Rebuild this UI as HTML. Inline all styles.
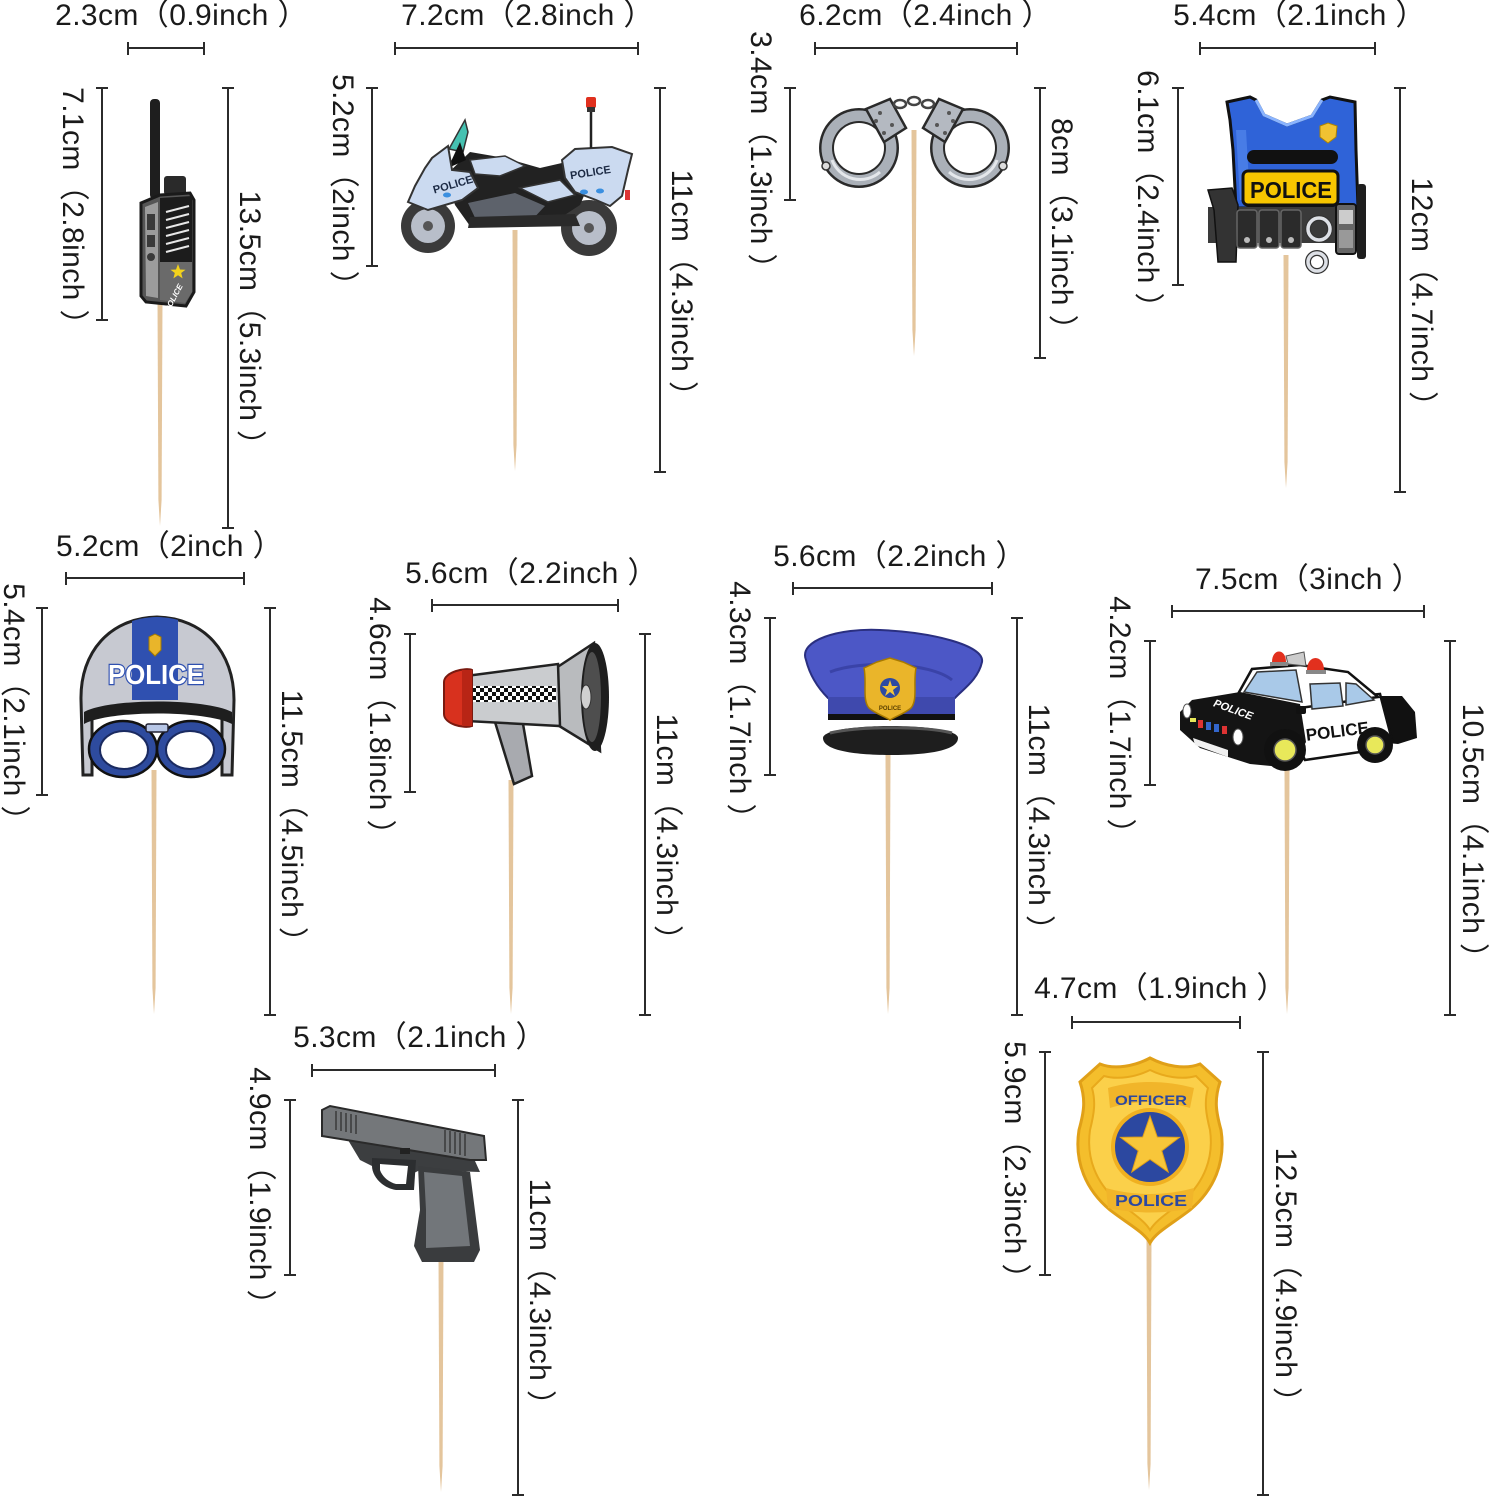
<!DOCTYPE html>
<html><head><meta charset="utf-8"><style>
html,body{margin:0;padding:0;background:#fff;}
svg{display:block;}
.t{font-family:"Liberation Sans","Noto Sans CJK SC",sans-serif;font-size:30px;fill:#1a1a1a;letter-spacing:0.4px;}
.d{stroke:#2b2b2b;stroke-width:2;fill:none;}
.sk{fill:#e4c59c;}
</style></head><body>
<svg width="1491" height="1500" viewBox="0 0 1491 1500" xmlns="http://www.w3.org/2000/svg">
<defs>
<pattern id="chk" width="8" height="8" patternUnits="userSpaceOnUse"><rect width="8" height="8" fill="#fff"/><rect width="4" height="4" fill="#111"/><rect x="4" y="4" width="4" height="4" fill="#111"/></pattern>
<clipPath id="helmclip"><path d="M82 712 L81 700 C80 652 110 618 157 617 C204 618 234 652 234 700 L233 712 Z"/></clipPath>
</defs>
<rect width="1491" height="1500" fill="#fff"/>

<!-- ===== toothpicks ===== -->
<polygon class="sk" points="157.5,300 162.5,300 161.6,500 160,526 158.4,500"/>
<polygon class="sk" points="512.5,230 517.5,230 516.6,445 515,471 513.4,445"/>
<polygon class="sk" points="911.5,130 916.5,130 915.6,330 914,356 912.4,330"/>
<polygon class="sk" points="1283.5,255 1288.5,255 1287.6,462 1286,488 1284.4,462"/>
<polygon class="sk" points="151.5,770 156.5,770 155.6,988 154,1014 152.4,988"/>
<polygon class="sk" points="508.5,780 513.5,780 512.6,988 511,1014 509.4,988"/>
<polygon class="sk" points="885.5,755 890.5,755 889.6,988 888,1014 886.4,988"/>
<polygon class="sk" points="1284.5,770 1289.5,770 1288.6,988 1287,1014 1285.4,988"/>
<polygon class="sk" points="438.5,1255 443.5,1255 442.6,1466 441,1492 439.4,1466"/>
<polygon class="sk" points="1146.5,1240 1151.5,1240 1150.6,1464 1149,1490 1147.4,1464"/>

<!-- ===== walkie-talkie ===== -->
<g>
<rect x="150" y="99" width="10" height="100" rx="4" fill="#1e1e1e"/>
<rect x="164" y="176" width="22" height="19" rx="3" fill="#2a2a2a"/>
<path d="M141 203 L160 195 L190 193 L194 200 L194 292 L186 306 L146 302 L141 296 Z" fill="#555" stroke="#1a1a1a" stroke-width="3"/>
<path d="M145 207 L158 202 L158 298 L146 296 Z" fill="#9c9c9c"/>
<rect x="147" y="214" width="8" height="16" fill="#3a3a3a"/>
<rect x="147" y="235" width="8" height="12" fill="#3a3a3a"/>
<circle cx="151" cy="257" r="4" fill="#3a3a3a"/>
<path d="M160 198 L192 196 L192 262 L160 262 Z" fill="#1c1c1c"/>
<g stroke="#e8e8e8" stroke-width="2">
<line x1="166" y1="212" x2="189" y2="206"/><line x1="166" y1="220" x2="189" y2="214"/>
<line x1="166" y1="228" x2="189" y2="222"/><line x1="166" y1="236" x2="189" y2="230"/>
<line x1="166" y1="244" x2="189" y2="238"/><line x1="166" y1="252" x2="189" y2="246"/>
</g>
<path d="M160 262 L192 262 L192 292 L185 303 L160 300 Z" fill="#6a6a6a"/>
<polygon points="178,264 180,269.5 185.5,269.8 181.2,273 182.6,278.4 178,275.3 173.4,278.4 174.8,273 170.5,269.8 176,269.5" fill="#f2d21c"/>
<text x="176" y="299" transform="rotate(-62 176 299)" font-family="Liberation Sans,sans-serif" font-size="8" font-weight="bold" font-style="italic" fill="#fff" text-anchor="middle">POLICE</text>
</g>

<!-- ===== motorcycle ===== -->
<g>
<circle cx="428" cy="226" r="27" fill="#3a3a3a"/>
<circle cx="428" cy="226" r="17" fill="#b8bec9"/>
<circle cx="428" cy="226" r="5" fill="#555"/>
<circle cx="589" cy="228" r="28" fill="#3a3a3a"/>
<circle cx="589" cy="228" r="17" fill="#b8bec9"/>
<circle cx="589" cy="228" r="5" fill="#555"/>
<path d="M446 175 L470 152 L505 158 L540 168 L575 160 L590 182 L580 205 L560 218 L520 226 L470 226 L455 205 Z" fill="#222"/>
<path d="M468 203 L515 193 L545 206 L530 222 L478 224 Z" fill="#5d626b"/>
<path d="M470 217 L575 214 L580 226 L468 228 Z" fill="#2a2a2a"/>
<path d="M449 149 L465 120 L468 132 L463 152 Z" fill="#45c1b1" stroke="#333" stroke-width="1.5"/>
<path d="M448 168 L460 142 L466 160 Z" fill="#111"/>
<path d="M408 202 L415 186 L425 168 L432 158 L448 146 L452 170 L470 172 L478 188 L462 200 L445 205 L428 210 Z" fill="#cbdaf0" stroke="#333" stroke-width="2"/>
<path d="M470 160 L505 156 L525 166 L500 176 L475 174 Z" fill="#cbdaf0" stroke="#333" stroke-width="1.5"/>
<path d="M520 188 L560 180 L575 195 L548 202 Z" fill="#cbdaf0" stroke="#333" stroke-width="1.5"/>
<path d="M562 160 L575 149 L612 147 L632 154 L628 170 L622 196 L610 206 L596 200 L575 192 L565 178 Z" fill="#cbdaf0" stroke="#333" stroke-width="2"/>
<rect x="625" y="190" width="5" height="10" fill="#d33"/>
<line x1="591" y1="108" x2="591" y2="148" stroke="#222" stroke-width="2.5"/>
<rect x="586" y="97" width="10" height="11" rx="2" fill="#e0301e"/>
<rect x="587" y="107" width="8" height="5" fill="#333"/>
<text x="454" y="188" transform="rotate(-16 454 188)" font-family="Liberation Sans,sans-serif" font-size="11" font-weight="bold" fill="#1c2a44" text-anchor="middle">POLICE</text>
<text x="591" y="176" transform="rotate(-9 591 176)" font-family="Liberation Sans,sans-serif" font-size="11" font-weight="bold" fill="#1c2a44" text-anchor="middle">POLICE</text>
<ellipse cx="447" cy="195" rx="4" ry="2.5" fill="#3a8fe0"/>
<ellipse cx="584" cy="192" rx="4" ry="2.5" fill="#3a8fe0"/>
<ellipse cx="600" cy="191" rx="4" ry="2.5" fill="#3a8fe0"/>
</g>

<!-- ===== handcuffs ===== -->
<g id="cuffL">
<circle cx="859" cy="148" r="40" fill="#2a2a2a"/>
<circle cx="859" cy="148" r="37.5" fill="#aab0b8"/>
<circle cx="859" cy="148" r="27" fill="#2a2a2a"/>
<circle cx="859" cy="148" r="25" fill="#fff"/>
<path d="M832 160 A30 30 0 0 0 880 172" fill="none" stroke="#e4e7eb" stroke-width="3"/>
<path d="M866 109 L890 99 L906 128 L884 142 Z" fill="#b4b9c1" stroke="#2a2a2a" stroke-width="2.5"/>
<circle cx="880" cy="113" r="2" fill="#555"/><circle cx="892" cy="125" r="2" fill="#555"/>
<circle cx="884" cy="133" r="2" fill="#555"/><circle cx="876" cy="121" r="2" fill="#555"/>
<circle cx="826" cy="166" r="4" fill="#ddd" stroke="#333" stroke-width="1.5"/>
</g>
<use href="#cuffL" transform="translate(1829,0) scale(-1,1)"/>
<g fill="none" stroke="#444" stroke-width="2.5">
<ellipse cx="900" cy="104" rx="6" ry="4"/><ellipse cx="914" cy="101" rx="6" ry="4"/><ellipse cx="928" cy="104" rx="6" ry="4"/>
</g>

<!-- ===== vest ===== -->
<g>
<path d="M1227 102 L1250 97 L1256 100 L1264 115 L1287 125 L1312 116 L1322 100 L1330 97 L1355 102 L1356 150 L1358 208 L1236 208 L1233 150 L1230 120 Z" fill="#2f63d8" stroke="#111" stroke-width="3"/>
<path d="M1256 100 L1264 115 L1287 125 L1312 116 L1322 100" fill="none" stroke="#8ab4ff" stroke-width="3"/>
<path d="M1236 130 L1240 200 L1250 200 L1246 130 Z" fill="#5a8df0" opacity="0.6"/>
<path d="M1320 126 L1328 123 L1337 126 L1336 137 L1328 143 L1320 137 Z" fill="#f1c232" stroke="#b08400" stroke-width="1"/>
<rect x="1247" y="150" width="91" height="14" rx="7" fill="#111"/>
<rect x="1243" y="171" width="95" height="34" rx="5" fill="#f7c600" stroke="#111" stroke-width="3"/>
<text x="1291" y="198" font-family="Liberation Sans,sans-serif" font-size="23" font-weight="bold" fill="#111" text-anchor="middle" textLength="82" lengthAdjust="spacingAndGlyphs">POLICE</text>
<rect x="1208" y="207" width="158" height="36" fill="#3a3a3a"/>
<path d="M1208 190 L1232 188 L1238 205 L1236 262 L1218 262 L1214 210 Z" fill="#333" stroke="#111" stroke-width="1.5"/>
<rect x="1237" y="210" width="20" height="38" rx="3" fill="#2b2b2b" stroke="#666" stroke-width="1.5"/>
<rect x="1259" y="210" width="20" height="38" rx="3" fill="#2b2b2b" stroke="#666" stroke-width="1.5"/>
<rect x="1281" y="210" width="20" height="38" rx="3" fill="#2b2b2b" stroke="#666" stroke-width="1.5"/>
<circle cx="1247" cy="240" r="3" fill="#bbb"/><circle cx="1269" cy="240" r="3" fill="#bbb"/><circle cx="1291" cy="240" r="3" fill="#bbb"/>
<circle cx="1319" cy="229" r="11" fill="none" stroke="#333" stroke-width="6"/>
<circle cx="1319" cy="229" r="11" fill="none" stroke="#dde0e6" stroke-width="3.5"/>
<circle cx="1317" cy="262" r="9" fill="none" stroke="#333" stroke-width="6"/>
<circle cx="1317" cy="262" r="9" fill="none" stroke="#dde0e6" stroke-width="3.5"/>
<rect x="1336" y="204" width="20" height="50" rx="3" fill="#666" stroke="#111" stroke-width="2"/>
<rect x="1339" y="210" width="14" height="14" fill="#ccc"/>
<rect x="1339" y="230" width="14" height="18" fill="#999"/>
<rect x="1357" y="184" width="9" height="75" rx="3" fill="#1e1e1e"/>
</g>

<!-- ===== helmet ===== -->
<g>
<path d="M83 775 L81 700 C80 652 110 618 157 617 C204 618 234 652 234 700 L232 775 L222 775 L222 712 L92 712 L92 775 Z" fill="#c7c9d1" stroke="#222" stroke-width="3"/>
<rect x="132" y="615" width="46" height="85" fill="#2f50b0" clip-path="url(#helmclip)"/>
<path d="M149 637 L155 634 L161 637 L161 650 L155 656 L149 650 Z" fill="#e9b52a" stroke="#a47a00" stroke-width="1"/>
<text x="156" y="684" font-family="Liberation Sans,sans-serif" font-size="28" font-weight="bold" fill="#fff" stroke="#2f50b0" stroke-width="2.5" paint-order="stroke" text-anchor="middle" textLength="96" lengthAdjust="spacingAndGlyphs">POLICE</text>
<path d="M84 712 C110 698 205 698 232 712 L232 724 C205 710 110 710 84 724 Z" fill="#1e1e1e"/>
<ellipse cx="123" cy="749" rx="34" ry="28" fill="#2e4b9e" stroke="#111" stroke-width="2.5"/>
<ellipse cx="191" cy="749" rx="34" ry="28" fill="#2e4b9e" stroke="#111" stroke-width="2.5"/>
<ellipse cx="124" cy="750" rx="24" ry="19" fill="#fff" stroke="#1a2a60" stroke-width="2"/>
<ellipse cx="190" cy="750" rx="24" ry="19" fill="#fff" stroke="#1a2a60" stroke-width="2"/>
<rect x="146" y="724" width="22" height="8" rx="2" fill="#b7c6e6" stroke="#223" stroke-width="1.5"/>
</g>

<!-- ===== megaphone ===== -->
<g>
<path d="M495 722 L522 718 L532 776 L514 784 Z" fill="#a8aaaf" stroke="#222" stroke-width="2.5"/>
<path d="M556 668 L594 643 L600 751 L556 724 Z" fill="#b9bbbe" stroke="#222" stroke-width="2.5"/>
<path d="M466 676 L558 664 L560 726 L466 721 Z" fill="#cacccf" stroke="#222" stroke-width="2.5"/>
<rect x="468" y="686" width="88" height="16" fill="url(#chk)"/>
<path d="M444 682 C444 672 466 667 472 670 L472 726 C464 729 444 724 444 714 Z" fill="#d8311e" stroke="#7a1a10" stroke-width="2"/>
<rect x="462" y="670" width="10" height="56" fill="#b82515"/>
<ellipse cx="595" cy="697" rx="14" ry="54" fill="#1e1e1e"/>
<ellipse cx="592" cy="697" rx="9" ry="45" fill="#4e4e4e"/>
<ellipse cx="586" cy="697" rx="5" ry="12" fill="#d0d0d0" stroke="#333" stroke-width="1"/>
</g>

<!-- ===== police hat ===== -->
<g>
<path d="M806 660 C798 640 840 628 880 630 C930 632 985 645 982 662 C978 680 962 690 955 698 L828 698 C818 688 810 676 806 660 Z" fill="#4c57c6" stroke="#2a2f80" stroke-width="2"/>
<path d="M830 672 C860 660 930 662 952 680" fill="none" stroke="#3a43a8" stroke-width="3"/>
<path d="M828 697 L955 697 L955 716 L828 716 Z" fill="#3f49ad"/>
<rect x="828" y="714" width="127" height="6" fill="#111"/>
<path d="M823 738 C823 722 958 722 958 738 C958 750 930 755 891 755 C852 755 823 750 823 738 Z" fill="#1e1e1e"/>
<path d="M830 733 C860 726 925 726 952 733" fill="none" stroke="#555" stroke-width="3"/>
<path d="M864 668 L877 662 L890 658 L903 662 L916 668 C913 682 918 700 911 708 C904 714 896 716 890 720 C884 716 876 714 869 708 C862 700 867 682 864 668 Z" fill="#eab52a" stroke="#a87a00" stroke-width="1.5"/>
<circle cx="890" cy="688" r="10" fill="#2d4aa2"/>
<polygon points="890,680 892,686 898,686 893,690 895,696 890,692 885,696 887,690 882,686 888,686" fill="#f3c53a"/>
<text x="890" y="710" font-family="Liberation Sans,sans-serif" font-size="6" font-weight="bold" fill="#5a3f00" text-anchor="middle">POLICE</text>
</g>

<!-- ===== police car ===== -->
<g>
<path d="M1372 696 L1402 696 L1415 712 L1417 738 L1398 744 L1376 742 Z" fill="#111"/>
<path d="M1296 702 L1380 694 L1392 740 L1360 752 L1305 760 L1292 735 Z" fill="#fff" stroke="#111" stroke-width="2.5"/>
<path d="M1238 694 L1252 669 L1300 665 L1348 672 L1378 697 L1300 708 Z" fill="#fff" stroke="#111" stroke-width="2.5"/>
<path d="M1244 692 L1257 672 L1296 670 L1302 702 Z" fill="#a9c9e8" stroke="#333" stroke-width="1.5"/>
<path d="M1310 684 L1340 683 L1343 706 L1312 709 Z" fill="#a9c9e8" stroke="#333" stroke-width="1.5"/>
<path d="M1346 683 L1356 684 L1374 700 L1346 705 Z" fill="#a9c9e8" stroke="#333" stroke-width="1.5"/>
<path d="M1180 712 L1192 700 L1240 692 L1300 704 L1306 742 L1292 768 L1250 764 L1200 748 L1180 730 Z" fill="#141414"/>
<ellipse cx="1187" cy="711" rx="4" ry="7" fill="#fff" stroke="#555"/>
<ellipse cx="1238" cy="737" rx="5" ry="8" fill="#fff" stroke="#555"/>
<rect x="1198" y="720" width="5" height="8" fill="#d33"/><rect x="1206" y="722" width="5" height="8" fill="#36c"/><rect x="1214" y="724" width="5" height="8" fill="#36c"/><rect x="1222" y="726" width="5" height="8" fill="#d33"/>
<path d="M1193 738 L1228 750 L1228 757 L1195 745 Z" fill="#f0f0f0"/>
<text x="1232" y="713" transform="rotate(20 1232 713)" font-family="Liberation Sans,sans-serif" font-size="11" font-weight="bold" font-style="italic" fill="#fff" text-anchor="middle">POLICE</text>
<text x="1338" y="737" transform="rotate(-7 1338 737)" font-family="Liberation Sans,sans-serif" font-size="17" font-weight="bold" fill="#111" text-anchor="middle">POLICE</text>
<rect x="1296" y="706" width="10" height="8" rx="2" fill="#111"/>
<circle cx="1285" cy="750" r="21" fill="#111"/>
<circle cx="1285" cy="750" r="11" fill="#e8e85a" stroke="#555" stroke-width="1.5"/>
<circle cx="1375" cy="745" r="18" fill="#111"/>
<circle cx="1375" cy="745" r="9" fill="#e8e85a" stroke="#555" stroke-width="1.5"/>
<rect x="1190" y="718" width="6" height="4" fill="#e8e85a"/>
<path d="M1272 662 C1272 648 1286 648 1286 662 Z" fill="#e2301e"/>
<path d="M1286 656 L1304 652 L1306 666 L1288 664 Z" fill="#ccc" stroke="#555"/>
<path d="M1307 670 C1307 654 1324 654 1324 670 Z" fill="#e2301e"/>
<rect x="1270" y="662" width="18" height="4" fill="#888"/><rect x="1306" y="670" width="20" height="4" fill="#888"/>
</g>

<!-- ===== gun ===== -->
<g>
<path d="M348 1140 L470 1150 L480 1172 L420 1170 L400 1180 L360 1160 Z" fill="#3c3e40"/>
<path d="M372 1158 L416 1160 L414 1190 L396 1190 C382 1188 372 1176 372 1166 Z" fill="#2c2e30"/>
<path d="M380 1164 L408 1166 L406 1184 L396 1184 C388 1182 382 1176 380 1170 Z" fill="#fff"/>
<path d="M418 1166 L470 1172 L480 1250 L474 1262 L422 1262 L414 1246 L420 1210 Z" fill="#3a3c3e"/>
<path d="M424 1172 L462 1176 L470 1246 L426 1248 L426 1210 Z" fill="#72767a"/>
<path d="M322 1110 L330 1106 L484 1136 L486 1160 L470 1160 L322 1136 Z" fill="#74777a" stroke="#2a2a2a" stroke-width="2"/>
<g stroke="#3a3a3a" stroke-width="1.5">
<line x1="336" y1="1111" x2="336" y2="1130"/><line x1="341" y1="1112" x2="341" y2="1131"/><line x1="346" y1="1113" x2="346" y2="1132"/><line x1="351" y1="1114" x2="351" y2="1133"/><line x1="356" y1="1115" x2="356" y2="1134"/>
<line x1="445" y1="1130" x2="445" y2="1152"/><line x1="450" y1="1131" x2="450" y2="1153"/><line x1="455" y1="1132" x2="455" y2="1154"/><line x1="460" y1="1133" x2="460" y2="1155"/><line x1="465" y1="1134" x2="465" y2="1156"/>
</g>
<rect x="400" y="1148" width="10" height="6" fill="#222"/>
</g>

<!-- ===== badge ===== -->
<g>
<path d="M1150 1058 C1135 1066 1115 1070 1100 1064 L1080 1082 C1086 1100 1084 1112 1079 1130 C1074 1162 1086 1190 1110 1210 C1128 1224 1144 1232 1150 1243 C1156 1232 1172 1224 1190 1210 C1214 1190 1226 1162 1221 1130 C1216 1112 1214 1100 1220 1082 L1200 1064 C1185 1070 1165 1066 1150 1058 Z" fill="#f4be2c" stroke="#e0a018" stroke-width="3"/>
<path d="M1150 1070 C1136 1077 1118 1080 1104 1076 L1092 1088 C1096 1102 1094 1114 1090 1130 C1086 1158 1096 1182 1116 1200 C1132 1213 1144 1220 1150 1230 C1156 1220 1168 1213 1184 1200 C1204 1182 1214 1158 1210 1130 C1206 1114 1204 1102 1208 1088 L1196 1076 C1182 1080 1164 1077 1150 1070 Z" fill="#fbd04a" stroke="#e8a91c" stroke-width="2"/>
<path d="M1108 1088 C1135 1080 1165 1080 1194 1088 L1190 1108 C1165 1100 1135 1100 1110 1108 Z" fill="#f1b52a"/>
<text x="1151" y="1105" font-family="Liberation Sans,sans-serif" font-size="14" font-weight="bold" fill="#2c48a0" text-anchor="middle" textLength="72" lengthAdjust="spacingAndGlyphs">OFFICER</text>
<circle cx="1150" cy="1147" r="37" fill="#2c48a0" stroke="#f0b020" stroke-width="4"/>
<polygon points="1150,1116 1157.3,1137 1179.5,1137.4 1161.8,1150.8 1168.2,1172 1150,1159.4 1131.8,1172 1138.2,1150.8 1120.5,1137.4 1142.7,1137" fill="#f8c63a" stroke="#e0a018" stroke-width="1"/>
<path d="M1106 1188 C1135 1196 1165 1196 1194 1188 L1192 1208 C1165 1214 1135 1214 1108 1208 Z" fill="#f1b52a"/>
<text x="1151" y="1206" font-family="Liberation Sans,sans-serif" font-size="16" font-weight="bold" fill="#2c48a0" text-anchor="middle" textLength="72" lengthAdjust="spacingAndGlyphs">POLICE</text>
</g>

<!-- ===== dimension lines ===== -->
<g class="d">
<path d="M128 48 H204 M128 42 V55 M204 42 V55"/>
<path d="M395 48 H638 M395 42 V55 M638 42 V55"/>
<path d="M815 48 H1017 M815 42 V55 M1017 42 V55"/>
<path d="M1200 48 H1375 M1200 42 V55 M1375 42 V55"/>
<path d="M66 578 H244 M66 572 V585 M244 572 V585"/>
<path d="M432 605 H618 M432 599 V612 M618 599 V612"/>
<path d="M793 588 H992 M793 582 V595 M992 582 V595"/>
<path d="M1172 611 H1424 M1172 605 V618 M1424 605 V618"/>
<path d="M312 1070 H495 M312 1064 V1077 M495 1064 V1077"/>
<path d="M1072 1022 H1240 M1072 1016 V1029 M1240 1016 V1029"/>
<path d="M102 88 V320 M96 88 H108 M96 320 H108"/>
<path d="M228 88 V528 M222 88 H234 M222 528 H234"/>
<path d="M372 88 V266 M366 88 H378 M366 266 H378"/>
<path d="M660 88 V472 M654 88 H666 M654 472 H666"/>
<path d="M790 88 V200 M784 88 H796 M784 200 H796"/>
<path d="M1040 88 V358 M1034 88 H1046 M1034 358 H1046"/>
<path d="M1178 88 V285 M1172 88 H1184 M1172 285 H1184"/>
<path d="M1400 88 V492 M1394 88 H1406 M1394 492 H1406"/>
<path d="M42 608 V795 M36 608 H48 M36 795 H48"/>
<path d="M270 608 V1015 M264 608 H276 M264 1015 H276"/>
<path d="M410 634 V792 M404 634 H416 M404 792 H416"/>
<path d="M645 634 V1015 M639 634 H651 M639 1015 H651"/>
<path d="M770 618 V775 M764 618 H776 M764 775 H776"/>
<path d="M1017 618 V1015 M1011 618 H1023 M1011 1015 H1023"/>
<path d="M1150 641 V785 M1144 641 H1156 M1144 785 H1156"/>
<path d="M1450 641 V1015 M1444 641 H1456 M1444 1015 H1456"/>
<path d="M290 1100 V1275 M284 1100 H296 M284 1275 H296"/>
<path d="M518 1100 V1495 M512 1100 H524 M512 1495 H524"/>
<path d="M1045 1052 V1275 M1039 1052 H1051 M1039 1275 H1051"/>
<path d="M1263 1052 V1495 M1257 1052 H1269 M1257 1495 H1269"/>
</g>

<!-- ===== horizontal labels ===== -->
<g class="t" text-anchor="middle">
<text x="181.5" y="25">2.3cm（0.9inch ）</text>
<text x="527.5" y="25">7.2cm（2.8inch ）</text>
<text x="925.5" y="25">6.2cm（2.4inch ）</text>
<text x="1299.5" y="25">5.4cm（2.1inch ）</text>
<text x="169.5" y="556">5.2cm（2inch ）</text>
<text x="531.5" y="583">5.6cm（2.2inch ）</text>
<text x="899.5" y="566">5.6cm（2.2inch ）</text>
<text x="1308.5" y="589">7.5cm（3inch ）</text>
<text x="419.5" y="1047">5.3cm（2.1inch ）</text>
<text x="1160.5" y="998">4.7cm（1.9inch ）</text>
</g>

<!-- ===== vertical labels (rotated clockwise) ===== -->
<g class="t" text-anchor="middle">
<text transform="translate(63,213.5) rotate(90)">7.1cm（2.8inch ）</text>
<text transform="translate(240,325.5) rotate(90)">13.5cm（5.3inch ）</text>
<text transform="translate(333,187.5) rotate(90)">5.2cm（2inch ）</text>
<text transform="translate(672,290.5) rotate(90)">11cm（4.3inch ）</text>
<text transform="translate(751,157.5) rotate(90)">3.4cm（1.3inch ）</text>
<text transform="translate(1052,231.5) rotate(90)">8cm（3.1inch ）</text>
<text transform="translate(1138,196.5) rotate(90)">6.1cm（2.4inch ）</text>
<text transform="translate(1412,299.5) rotate(90)">12cm（4.7inch ）</text>
<text transform="translate(4,709.5) rotate(90)">5.4cm（2.1inch ）</text>
<text transform="translate(282,823.5) rotate(90)">11.5cm（4.5inch ）</text>
<text transform="translate(370,723.5) rotate(90)">4.6cm（1.8inch ）</text>
<text transform="translate(657,834.5) rotate(90)">11cm（4.3inch ）</text>
<text transform="translate(730,707.5) rotate(90)">4.3cm（1.7inch ）</text>
<text transform="translate(1029,824.5) rotate(90)">11cm（4.3inch ）</text>
<text transform="translate(1110,722.5) rotate(90)">4.2cm（1.7inch ）</text>
<text transform="translate(1463,838.5) rotate(90)">10.5cm（4.1inch ）</text>
<text transform="translate(250,1193.5) rotate(90)">4.9cm（1.9inch ）</text>
<text transform="translate(530,1299.5) rotate(90)">11cm（4.3inch ）</text>
<text transform="translate(1005,1167.5) rotate(90)">5.9cm（2.3inch ）</text>
<text transform="translate(1276,1282.5) rotate(90)">12.5cm（4.9inch ）</text>
</g>
</svg>
</body></html>
